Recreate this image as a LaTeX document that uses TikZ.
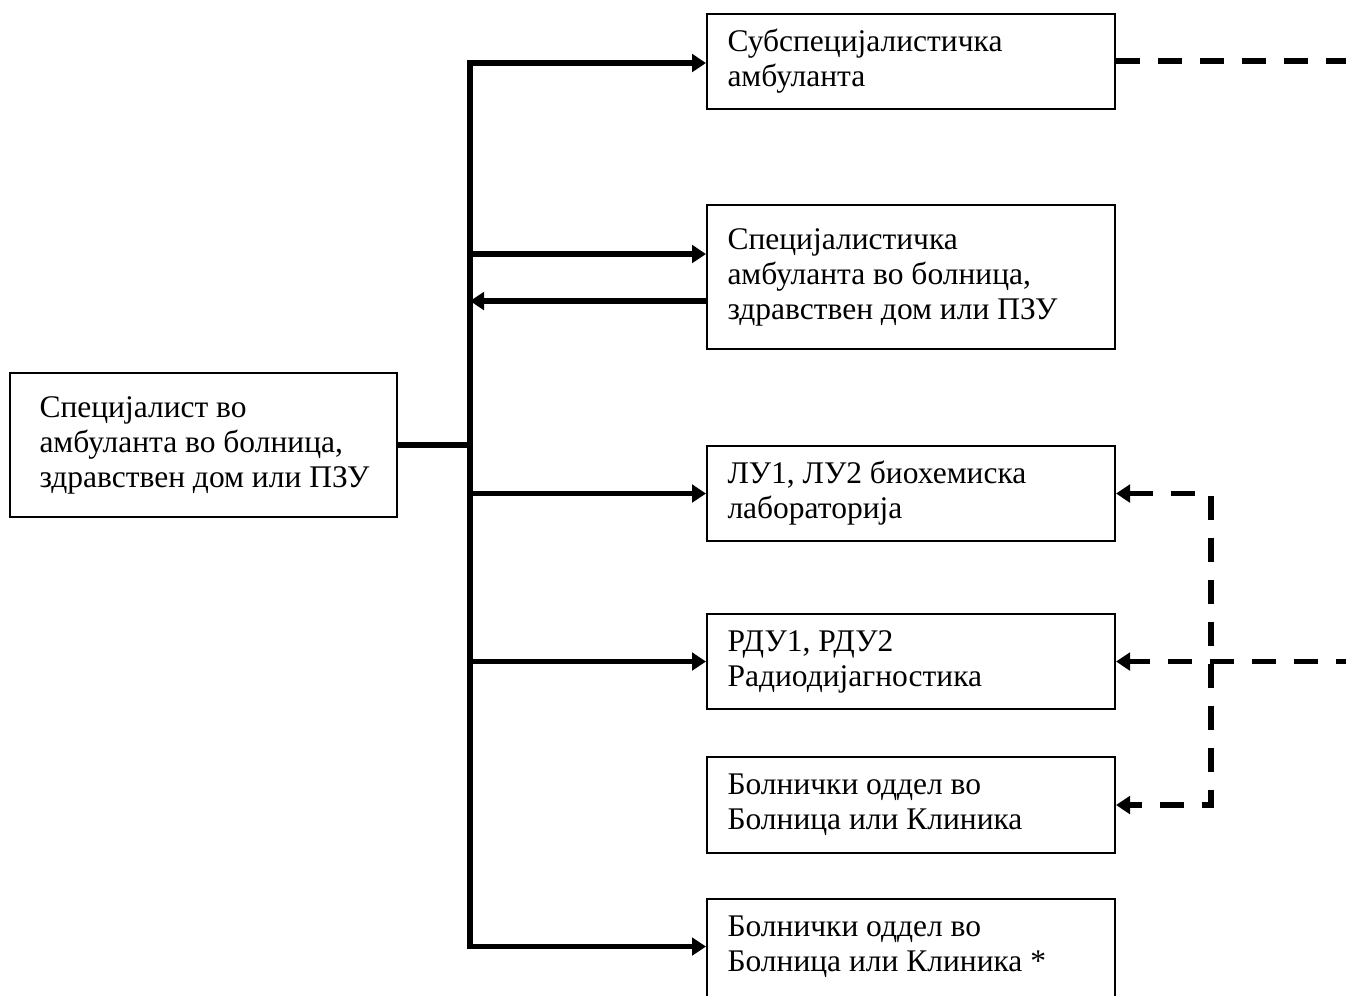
\documentclass[tikz,border=0pt]{standalone}
\usepackage{fontspec}
\setmainfont{Liberation Serif}
\usetikzlibrary{arrows.meta,calc}
\begin{document}
\begin{tikzpicture}[x=0.4pt,y=-0.4pt,
  box/.style={draw, line width=0.8pt, minimum width=408*0.4pt, inner sep=0pt},
  txt/.style={anchor=west, inner sep=0pt, align=left,
    font=\fontsize{12.6pt}{14pt}\selectfont},
  conn/.style={line width=2.2pt, line join=miter},
  tip/.style={-{Triangle[length=5.6pt,width=7pt]}},
  dsh/.style={line width=2.2pt, dash pattern=on 9.6pt off 7.2pt}]
\useasboundingbox (0,0) rectangle (1346,995);
% boxes
\node[box, minimum width=387*0.4pt, minimum height=144*0.4pt] (L) at (203.5,445) {};
\node[box, minimum height=95*0.4pt] (b1) at (911,61) {};
\node[box, minimum height=144*0.4pt] (b2) at (911,277) {};
\node[box, minimum height=95*0.4pt] (b3) at (911,493.5) {};
\node[box, minimum height=95*0.4pt] (b4) at (911,661.5) {};
\node[box, minimum height=96*0.4pt] (b5) at (911,805) {};
\node[box, minimum height=106*0.4pt] (b6) at (911,952) {};
% coordinates
\coordinate (tx) at (470,0);
\coordinate (r1) at (470,63);
\coordinate (r2a) at (470,254);
\coordinate (r2b) at (470,301);
\coordinate (r6) at (470,946.5);
\coordinate (rx) at (1360,0);
\coordinate (vx) at (1211,0);
% texts
\node[txt] (Lt) at ($(L.west)+(30,0)$) {Специјалист во\\амбуланта во болница,\\здравствен дом или ПЗУ};
\node[txt] (t1) at ($(b1.west)+(21,0)$) {Субспецијалистичка\\амбуланта};
\node[txt] (t2) at ($(b2.west)+(21,0)$) {Специјалистичка\\амбуланта во болница,\\здравствен дом или ПЗУ};
\node[txt] (t3) at ($(b3.west)+(21,0)$) {ЛУ1, ЛУ2 биохемиска\\лабораторија};
\node[txt] (t4) at ($(b4.west)+(21,0)$) {РДУ1, РДУ2\\Радиодијагностика};
\node[txt] (t5) at ($(b5.west)+(21,0)$) {Болнички оддел во\\Болница или Клиника};
\node[txt] (t6) at ($(r6 -| b6.west)+(21,0)$) {Болнички оддел во\\Болница или Клиника *};
% solid connectors
\draw[conn, {Triangle[length=5.6pt,width=7pt]}-{Triangle[length=5.6pt,width=7pt]}]
  (r6 -| b6.west) -- (r6) -- (r1) -- (r1 -| b1.west);
\draw[conn] (L.east) -- ($(L.east -| tx)+(-3,0)$);
\draw[conn, tip] (r2a) -- (r2a -| b2.west);
\draw[conn, tip] (r2b -| b2.west) -- (r2b);
\draw[conn, tip] (b3.west -| tx) -- (b3.west);
\draw[conn, tip] (b4.west -| tx) -- (b4.west);
% dashed connectors
\draw[dsh] (b1.east) -- (b1.east -| rx);
\draw[dsh, tip] (b4.east -| rx) -- (b4.east);
\draw[dsh, {Triangle[length=5.6pt,width=7pt]}-{Triangle[length=5.6pt,width=7pt]}]
  (b3.east) -- (b3.east -| vx) -- (b5.east -| vx) -- (b5.east);
\end{tikzpicture}
\end{document}
